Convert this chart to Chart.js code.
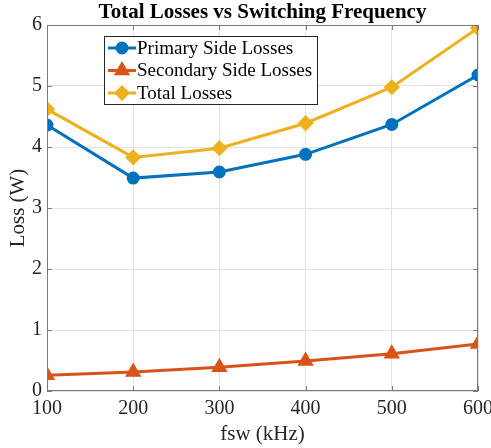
<!DOCTYPE html>
<html><head><meta charset="utf-8">
<script src="https://cdn.jsdelivr.net/npm/chart.js@4/dist/chart.umd.min.js"></script>
<style>html,body{margin:0;padding:0;background:#fff;}#wrap{width:491px;height:448px;position:relative;}</style>
</head><body><div id="wrap"><canvas id="c" width="491" height="448"></canvas></div>
<script>
const freqs = [100, 200, 300, 400, 500, 600];
const primaryLosses = [4.36, 3.49, 3.59, 3.88, 4.37, 5.18];
const secondaryLosses = [0.26, 0.31, 0.39, 0.49, 0.61, 0.77];
const totalLosses = [4.62, 3.83, 3.98, 4.39, 4.98, 5.95];
const seriesNames = ['Primary Side Losses', 'Secondary Side Losses', 'Total Losses'];
const xTicks = [100, 200, 300, 400, 500, 600];
const yTicks = [0, 1, 2, 3, 4, 5, 6];
const titleText = 'Total Losses vs Switching Frequency';
const xTitle = 'fsw (kHz)';
const yTitle = 'Loss (W)';

const SERIF = '"Liberation Serif", "Times New Roman", serif';
const AX = '#262626';
const pts = arr => freqs.map((f, i) => ({x: f, y: arr[i]}));

const styles = [
  {color: '#0072BD', pointStyle: 'circle', radius: 5},
  {color: '#D95319', pointStyle: 'triangle', radius: 6.5},
  {color: '#EDB120', pointStyle: 'rectRot', radius: 6}
];
const series = [primaryLosses, secondaryLosses, totalLosses];

const frame = {
  id: 'frame',
  afterDraw(chart) {
    const {ctx, chartArea: a, scales: {x, y}} = chart;
    ctx.save();
    ctx.strokeStyle = '#7a7a7a'; ctx.lineWidth = 1;
    ctx.strokeRect(a.left + 0.5, a.top + 0.5, a.right - a.left - 1, a.bottom - a.top - 1);
    const tl = 5;
    ctx.beginPath();
    xTicks.forEach(v => {
      const px = Math.round(x.getPixelForValue(v)) + 0.5;
      ctx.moveTo(px, a.bottom); ctx.lineTo(px, a.bottom - tl);
      ctx.moveTo(px, a.top); ctx.lineTo(px, a.top + tl);
    });
    yTicks.forEach(v => {
      const py = Math.round(y.getPixelForValue(v)) + 0.5;
      ctx.moveTo(a.left, py); ctx.lineTo(a.left + tl, py);
      ctx.moveTo(a.right, py); ctx.lineTo(a.right - tl, py);
    });
    ctx.stroke();
    // title
    ctx.fillStyle = '#000';
    ctx.font = 'bold 21px ' + SERIF;
    ctx.textAlign = 'center'; ctx.textBaseline = 'middle';
    ctx.fillText(titleText, (a.left + a.right) / 2, 13);
    // legend
    const lx = 104, ly = 36, lw = 213, lh = 68;
    ctx.fillStyle = '#fff';
    ctx.fillRect(lx, ly, lw, lh);
    ctx.strokeStyle = AX; ctx.lineWidth = 1;
    ctx.strokeRect(lx + 0.5, ly + 0.5, lw, lh);
    ctx.font = '19px ' + SERIF;
    ctx.textAlign = 'left';
    chart.data.datasets.forEach((ds, i) => {
      const ry = 48 + i * 22.5;
      ctx.strokeStyle = ds.borderColor; ctx.lineWidth = 3;
      ctx.beginPath(); ctx.moveTo(108, ry); ctx.lineTo(136, ry); ctx.stroke();
      ctx.fillStyle = ds.borderColor;
      Chart.helpers.drawPoint(ctx, {pointStyle: ds.pointStyle, radius: ds.pointRadius, borderWidth: 1}, 122, ry);
      ctx.fillStyle = '#000';
      ctx.fillText(ds.label, 137, ry + 1);
    });
    ctx.restore();
  }
};

function zeroPad(s) { s.paddingLeft = 0; s.paddingRight = 0; s.paddingTop = 0; s.paddingBottom = 0; }

new Chart(document.getElementById('c'), {
  type: 'line',
  data: {
    datasets: series.map((arr, i) => ({
      label: seriesNames[i],
      data: pts(arr),
      borderColor: styles[i].color,
      backgroundColor: styles[i].color,
      pointBackgroundColor: styles[i].color,
      pointBorderColor: styles[i].color,
      pointStyle: styles[i].pointStyle,
      pointRadius: styles[i].radius,
      borderWidth: 3,
      tension: 0
    }))
  },
  options: {
    responsive: false,
    animation: false,
    layout: {autoPadding: false, padding: {top: 25, right: 13, left: 0, bottom: 0}},
    plugins: {legend: {display: false}, title: {display: false}, tooltip: {enabled: false}},
    scales: {
      x: {
        type: 'linear', min: 100, max: 600,
        afterFit(s) { s.height = 57; zeroPad(s); },
        afterBuildTicks(s) { s.ticks = xTicks.map(v => ({value: v})); },
        grid: {color: '#e3e3e3', drawTicks: false},
        border: {display: false},
        ticks: {color: AX, font: {family: SERIF, size: 20}, padding: 6, maxRotation: 0},
        title: {display: true, text: xTitle, color: AX, font: {family: SERIF, size: 21}, padding: {top: 0, bottom: 1}}
      },
      y: {
        min: 0, max: 6,
        afterFit(s) { s.width = 47; zeroPad(s); },
        afterBuildTicks(s) { s.ticks = yTicks.map(v => ({value: v})); },
        grid: {color: '#e3e3e3', drawTicks: false},
        border: {display: false},
        ticks: {color: AX, font: {family: SERIF, size: 20}, padding: 5},
        title: {display: true, text: yTitle, color: AX, font: {family: SERIF, size: 21}, padding: {top: 6, bottom: 0}}
      }
    }
  },
  plugins: [frame]
});
</script></body></html>
